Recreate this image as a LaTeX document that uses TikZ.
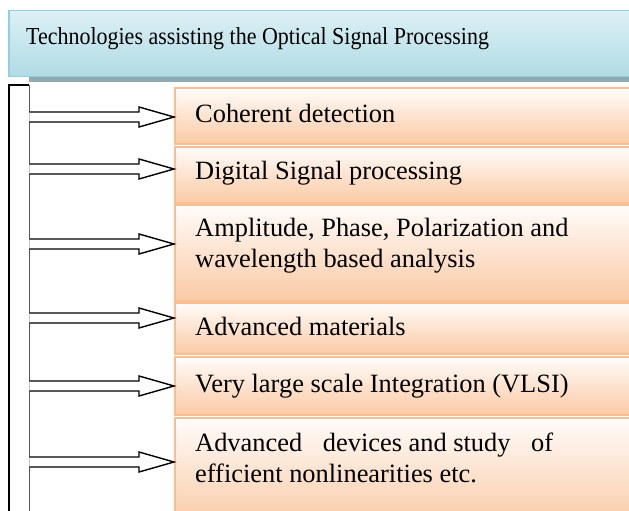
\documentclass[tikz,border=0pt]{standalone}
\usepackage{fontspec}
\usepackage{graphicx}
\setmainfont{Liberation Serif}
\usetikzlibrary{calc}

\definecolor{titletop}{HTML}{DCF0F5}
\definecolor{titlebottom}{HTML}{B1DBE5}
\definecolor{titleedge}{HTML}{92D0DE}
\definecolor{titleshadow}{HTML}{8FAAB1}
\definecolor{itemtop}{HTML}{FFFCFA}
\definecolor{itembottom}{HTML}{FAC9A4}
\definecolor{itemedge}{HTML}{F9BD92}

\tikzset{
  titlebox/.style={draw=titleedge, line width=1.5bp, top color=titletop,
    bottom color=titlebottom, anchor=north west, inner sep=0pt,
    minimum width=640bp, minimum height=66bp},
  itembox/.style={draw=itemedge, line width=2bp, top color=itemtop,
    bottom color=itembottom, anchor=north west, inner sep=0pt,
    minimum width=470bp},
  label/.style={anchor=base west, inner sep=0pt, align=left,
    font=\fontsize{26.5}{30.5}\selectfont},
  hollowarrow/.style={draw=black, line width=1.4bp, fill=white, line join=miter},
}

\begin{document}
\begin{tikzpicture}[x=1bp,y=-1bp]
\useasboundingbox (0,0) rectangle (629,511);
\clip (0,0) rectangle (629,511);

% heading panel with its shadow
\fill[titleshadow] (29,77) rectangle (640,82);
\node[titlebox] (title) at (8,10) {};
\node[label, font=\fontsize{24.5}{28}\selectfont] (titletext) at (26,45)
  {\scalebox{0.9}[1]{Technologies assisting the Optical Signal Processing}};

% vertical rail on the left
\node[anchor=north west, inner sep=0pt, minimum width=20bp, minimum height=450bp, fill=white] (bar) at (9,85) {};
\draw[gray!70!black, line width=1bp] (bar.north east) -- (bar.south east);
\draw[black, line width=2.4bp, line join=miter] (bar.south west) -- (bar.north west) -- (bar.north east);

% item panels
\node[itembox, minimum height=56bp] (b1) at (174,87) {};
\node[itembox, minimum height=56bp] (b2) at (174,146) {};
\node[itembox, minimum height=96bp] (b3) at (174,204) {};
\node[itembox, minimum height=51bp] (b4) at (174,302) {};
\node[itembox, minimum height=58bp] (b5) at (174,356) {};
\node[itembox, minimum height=110bp] (b6) at (174,417) {};

% item texts (multi-line nodes sit on the baseline of their last line)
\node[label] (t1) at (195,123) {Coherent detection};
\node[label] (t2) at (195,180) {Digital Signal processing};
\node[label] (t3) at (195,267) {Amplitude, Phase, Polarization and\\wavelength based analysis};
\node[label] (t4) at (195,335) {Advanced materials};
\node[label] (t5) at (195,392) {Very large scale Integration (VLSI)};
\node[label] (t6) at (195,482) {\makebox[358bp][l]{Advanced\hfill devices and study\hfill of}\\efficient nonlinearities etc.};

% hollow block arrows from the rail to each panel
\foreach \b/\y in {b1/117, b2/169, b3/244, b4/318, b5/386, b6/462}{
  \coordinate (lvl) at (0,\y);
  \draw[hollowarrow]
    ($(bar.east |- lvl)+(0,-5)$)
    -- ($(\b.west |- lvl)+(-35,-5)$)
    -- ++(0,-5)
    -- (\b.west |- lvl)
    -- ($(\b.west |- lvl)+(-35,10)$)
    -- ++(0,-5)
    -- ($(bar.east |- lvl)+(0,5)$);
}
\end{tikzpicture}
\end{document}
